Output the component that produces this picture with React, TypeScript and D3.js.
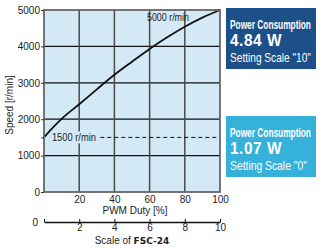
import React, { useEffect, useRef } from "react";
import * as d3 from "d3";

const duty = [0, 5, 10, 20, 30, 40, 50, 60, 70, 80, 90, 100];
const speed = [1500, 1770, 2010, 2410, 2820, 3220, 3580, 3930, 4250, 4540, 4790, 5000];
const dutyTicks = [20, 40, 60, 80, 100];
const speedTicks = [0, 1000, 2000, 3000, 4000, 5000];
const scaleTicks = [2, 4, 6, 8, 10];
const powerBoxes = [
  { title: "Power Consumption", watts: "4.84 W", note: "Setting Scale \"10\"", color: "#1d4f88" },
  { title: "Power Consumption", watts: "1.07 W", note: "Setting Scale \"0\"", color: "#35b1da" },
];

export default function App() {
  const ref = useRef<SVGSVGElement>(null);

  useEffect(() => {
    const svg = d3.select(ref.current);
    svg.selectAll("*").remove();
    const font = "'Liberation Sans', Arial, sans-serif";
    const margin = { top: 10, right: 100, bottom: 58, left: 44 };
    const width = 320, height = 250;
    const x = d3.scaleLinear().domain([0, 100]).range([margin.left, width - margin.right]);
    const y = d3.scaleLinear().domain([0, 5000]).range([height - margin.bottom, margin.top]);
    const s = d3.scaleLinear().domain([0, 10]).range([margin.left, width - margin.right]);

    // squeeze a text to a given width (condensed look)
    const fit = (t: d3.Selection<SVGTextElement, unknown, null, undefined>, w: number, px: number, py: number) => {
      const len = (t.node() as SVGTextElement).getComputedTextLength();
      t.attr("x", 0).attr("y", 0).attr("transform", `translate(${px},${py}) scale(${w / len},1)`);
    };

    // plot background
    svg.append("rect")
      .attr("x", x(0)).attr("y", y(5000))
      .attr("width", x(100) - x(0)).attr("height", y(0) - y(5000))
      .attr("fill", "#d3eaf6");

    // grid
    svg.append("g").selectAll("line")
      .data(speedTicks.slice(1, -1))
      .join("line")
        .attr("x1", x(0)).attr("x2", x(100))
        .attr("y1", d => y(d)).attr("y2", d => y(d))
        .attr("stroke", "#111").attr("stroke-width", 1.3);
    svg.append("g").selectAll("line")
      .data(dutyTicks.slice(0, -1))
      .join("line")
        .attr("x1", d => x(d)).attr("x2", d => x(d))
        .attr("y1", y(0)).attr("y2", y(5000))
        .attr("stroke", "#4a4a4a").attr("stroke-width", 1.5);

    // 1500 label and dashed line
    svg.append("line")
      .attr("x1", x(32)).attr("x2", x(100))
      .attr("y1", y(1500)).attr("y2", y(1500))
      .attr("stroke", "#111").attr("stroke-dasharray", "4,3").attr("stroke-width", 1);
    svg.append("rect")
      .attr("x", x(4)).attr("y", y(1500) - 6)
      .attr("width", x(30) - x(4)).attr("height", 12)
      .attr("fill", "#d3eaf6");
    const l1500 = svg.append("text")
      .attr("font-family", font).attr("font-size", 10).attr("fill", "#222")
      .text("1500 r/min");
    fit(l1500, 44, x(4.5), y(1500) + 3.5);
    const l5000 = svg.append("text")
      .attr("font-family", font).attr("font-size", 10).attr("fill", "#222")
      .text("5000 r/min");
    fit(l5000, 42, x(58.5), y(5000) + 11);

    // curve
    const pts = duty.map((d, i) => [d, speed[i]] as [number, number]);
    svg.append("path")
      .datum(pts)
      .attr("fill", "none")
      .attr("stroke", "#111").attr("stroke-width", 1.8)
      .attr("d", d3.line<[number, number]>().x(d => x(d[0])).y(d => y(d[1])).curve(d3.curveMonotoneX));

    // plot border
    svg.append("rect")
      .attr("x", x(0)).attr("y", y(5000))
      .attr("width", x(100) - x(0)).attr("height", y(0) - y(5000))
      .attr("fill", "none").attr("stroke", "#666").attr("stroke-width", 1.8);

    // y axis
    const ya = svg.append("g")
      .attr("transform", `translate(${x(0)},0)`)
      .call(d3.axisLeft(y).tickValues([...speedTicks, 1500]).tickSize(3).tickFormat(d => (+d === 1500 ? "" : String(d))));
    ya.select(".domain").remove();
    ya.selectAll("line").attr("stroke", "#333");
    ya.selectAll("text").attr("font-family", font).attr("font-size", 10).attr("fill", "#222").attr("x", -4);

    svg.append("text")
      .attr("transform", `translate(13,${(y(0) + y(5000)) / 2 + 4}) rotate(-90)`)
      .attr("text-anchor", "middle")
      .attr("font-family", font).attr("font-size", 10).attr("fill", "#222")
      .text("Speed [r/min]");

    // x axis
    const xa = svg.append("g")
      .attr("transform", `translate(0,${y(0)})`)
      .call(d3.axisBottom(x).tickValues(dutyTicks).tickSize(0).tickPadding(4));
    xa.select(".domain").remove();
    xa.selectAll("text").attr("font-family", font).attr("font-size", 10).attr("fill", "#222");
    svg.append("text")
      .attr("x", (x(0) + x(100)) / 2 + 3).attr("y", 214)
      .attr("text-anchor", "middle")
      .attr("font-family", font).attr("font-size", 10).attr("fill", "#222")
      .text("PWM Duty [%]");

    // scale axis
    const sa = svg.append("g")
      .attr("transform", `translate(0,222)`)
      .call(d3.axisBottom(s).tickValues([0, ...scaleTicks]).tickSizeInner(-3).tickSizeOuter(0).tickPadding(2).tickFormat(d => (+d === 0 ? "" : String(d))));
    sa.select(".domain").attr("stroke", "#111").attr("stroke-width", 1.3);
    sa.selectAll("line").attr("stroke", "#111");
    sa.selectAll("text").attr("font-family", font).attr("font-size", 10).attr("fill", "#222");
    svg.append("text")
      .attr("x", s(0) - 6).attr("y", 225.5)
      .attr("text-anchor", "end")
      .attr("font-family", font).attr("font-size", 10).attr("fill", "#222")
      .text("0");
    const st = svg.append("text")
      .attr("x", (x(0) + x(100)) / 2).attr("y", 244)
      .attr("text-anchor", "middle")
      .attr("font-family", font).attr("font-size", 10).attr("fill", "#222");
    st.append("tspan").text("Scale of ");
    st.append("tspan").attr("font-family", "'DejaVu Sans', sans-serif").attr("font-weight", "bold").attr("font-size", 9).text("FSC-24");

    // power boxes
    const boxY = [8, 116];
    const bx = 226, bw = 90, bh = 61;
    powerBoxes.forEach((b, i) => {
      const g = svg.append("g").attr("transform", `translate(${bx},${boxY[i]})`);
      g.append("rect").attr("width", bw).attr("height", bh).attr("fill", b.color);
      const t1 = g.append("text")
        .attr("font-family", font).attr("font-size", 13).attr("font-weight", "bold").attr("fill", "#fff")
        .text(b.title);
      fit(t1, 81, 4, 21);
      const t2 = g.append("text")
        .attr("font-family", font).attr("font-size", 17).attr("font-weight", "bold").attr("fill", "#fff")
        .attr("letter-spacing", 0.6)
        .text(b.watts);
      fit(t2, 52, 4, 38);
      const t3 = g.append("text")
        .attr("font-family", font).attr("font-size", 12).attr("fill", "#fff")
        .text(b.note);
      fit(t3, i === 0 ? 81 : 77, 4, 54);
    });
  }, []);

  return (
    <svg
      ref={ref}
      width={320}
      height={250}
      style={{ position: "absolute", left: 0, top: 0, background: "#fff" }}
    />
  );
}
